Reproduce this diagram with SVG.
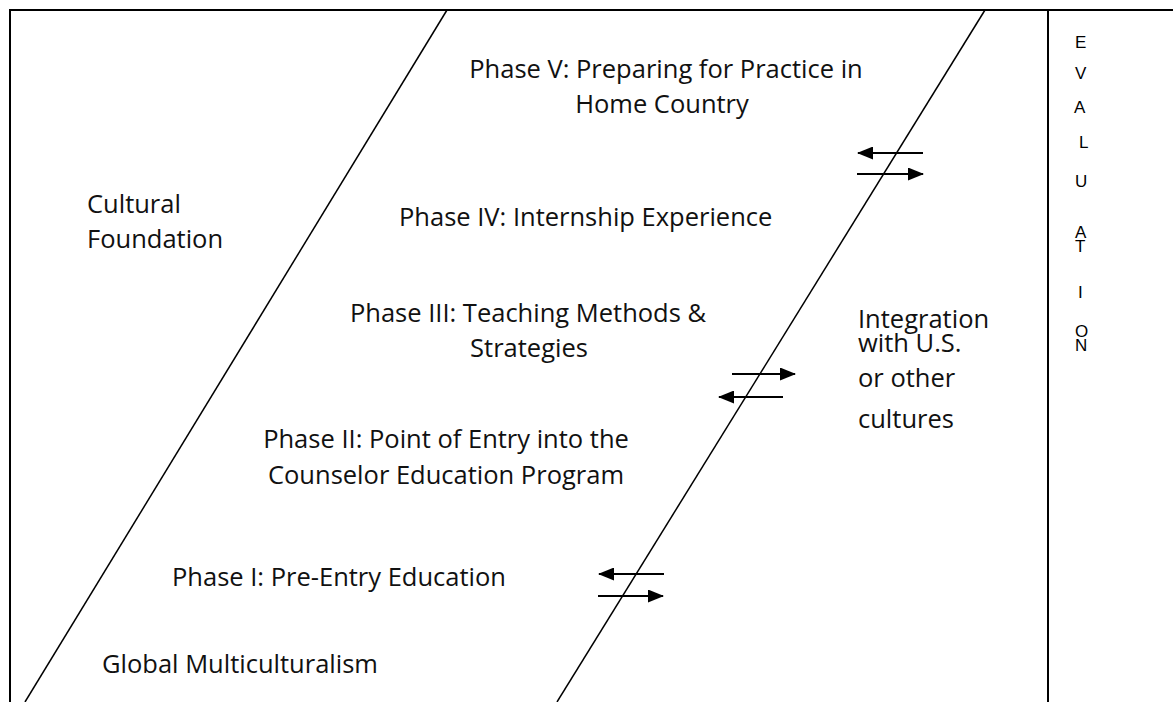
<svg xmlns="http://www.w3.org/2000/svg" width="1173" height="702" viewBox="0 0 1173 702">
<defs>
<marker id="ah" markerWidth="8" markerHeight="6.5" refX="7.5" refY="3.25" orient="auto" markerUnits="strokeWidth">
<path d="M0,0 L8,3.25 L0,6.5 Z" fill="#000"/>
</marker>
<style>
.frame{stroke:#000;stroke-width:2;fill:none}
.diag{stroke:#000;stroke-width:1.5;fill:none}
.arr{stroke:#000;stroke-width:2;fill:none;marker-end:url(#ah)}
.t{font-family:"Open Sans","Noto Sans",sans-serif;font-size:25.5px;fill:#111}
.tm{text-anchor:middle}
.ev{font-family:"Liberation Sans",Arial,sans-serif;font-size:17px;fill:#000}
</style>
</defs>
<rect width="1173" height="702" fill="#fff"/>
<g id="frame">
<path class="frame" d="M10,702 V10 H1173"/>
<path class="frame" d="M1048,10 V702"/>
</g>
<g id="band">
<path class="diag" d="M447,10 L25,702"/>
<path class="diag" d="M985,10 L557,702"/>
</g>
<g id="connectors">
<line class="arr" x1="923" y1="153" x2="858" y2="153"/>
<line class="arr" x1="857" y1="174" x2="923" y2="174"/>
<line class="arr" x1="732" y1="374" x2="795" y2="374"/>
<line class="arr" x1="783" y1="397" x2="719" y2="397"/>
<line class="arr" x1="664" y1="574" x2="599" y2="574"/>
<line class="arr" x1="598" y1="596" x2="663" y2="596"/>
</g>
<g id="phase5"><text class="t tm" x="666" y="78">Phase V: Preparing for Practice in</text><text class="t tm" x="662" y="113">Home Country</text></g>
<g id="cultural-foundation"><text class="t" x="87" y="213">Cultural</text><text class="t" x="87" y="248">Foundation</text></g>
<g id="phase4"><text class="t" x="399" y="226">Phase IV: Internship Experience</text></g>
<g id="phase3"><text class="t tm" x="528" y="322">Phase III: Teaching Methods &amp;</text><text class="t tm" x="529" y="357">Strategies</text></g>
<g id="phase2"><text class="t tm" x="446" y="448">Phase II: Point of Entry into the</text><text class="t tm" x="446" y="484">Counselor Education Program</text></g>
<g id="phase1"><text class="t" x="172" y="586">Phase I: Pre-Entry Education</text></g>
<g id="global-multiculturalism"><text class="t" x="102" y="673">Global Multiculturalism</text></g>
<g id="integration"><text class="t" x="858" y="328">Integration</text><text class="t" x="858" y="352">with U.S.</text><text class="t" x="858" y="387">or other</text><text class="t" x="858" y="428">cultures</text></g>
<g id="evaluation">
<text class="ev" x="1075" y="48">E</text>
<text class="ev" x="1075" y="79">V</text>
<text class="ev" x="1074" y="113">A</text>
<text class="ev" x="1079" y="148">L</text>
<text class="ev" x="1075" y="187">U</text>
<text class="ev" x="1075" y="238">A</text>
<text class="ev" x="1075" y="252">T</text>
<text class="ev" x="1078" y="298">I</text>
<text class="ev" x="1075" y="337">O</text>
<text class="ev" x="1075" y="351">N</text>
</g>
</svg>
